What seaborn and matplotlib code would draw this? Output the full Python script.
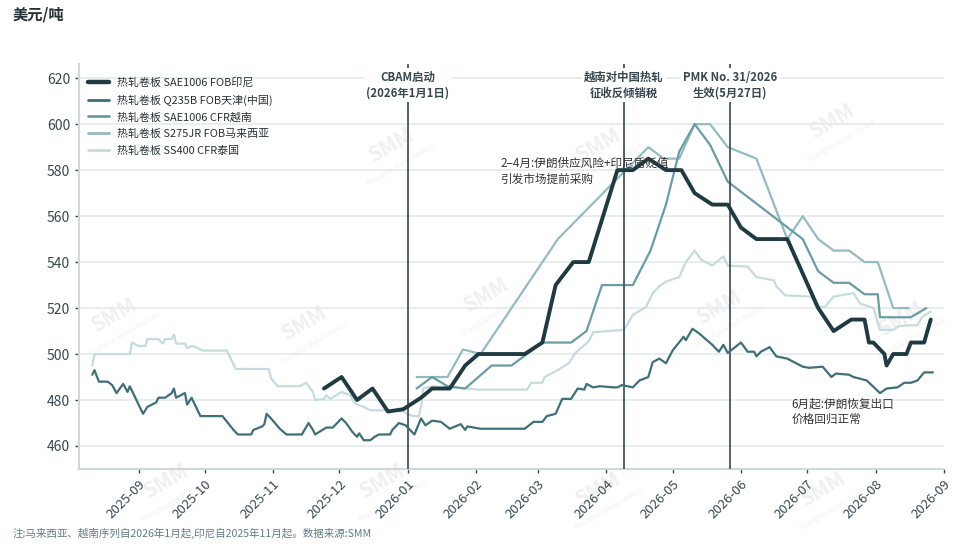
import matplotlib
matplotlib.use("Agg")
import matplotlib.pyplot as plt
import matplotlib.dates as mdates
from matplotlib.lines import Line2D
import seaborn as sns
import pandas as pd

# ---------------- data ----------------
series_names = [
    "热轧卷板 SAE1006 FOB印尼",
    "热轧卷板 Q235B FOB天津(中国)",
    "热轧卷板 SAE1006 CFR越南",
    "热轧卷板 S275JR FOB马来西亚",
    "热轧卷板 SS400 CFR泰国",
]
series_colors = ["#1f3a41", "#3f6f79", "#6b9ba5", "#94bbc3", "#c4dcdf"]
series_widths = [2.8, 1.6, 1.6, 1.6, 1.6]

indo_dates = ["2025-11-24", "2025-12-02", "2025-12-09", "2025-12-16", "2025-12-23",
              "2025-12-30", "2026-01-07", "2026-01-12", "2026-01-20", "2026-01-27",
              "2026-02-02", "2026-02-23", "2026-03-03", "2026-03-09", "2026-03-17",
              "2026-03-24", "2026-04-06", "2026-04-13", "2026-04-20", "2026-04-28",
              "2026-05-05", "2026-05-11", "2026-05-19", "2026-05-26", "2026-06-01",
              "2026-06-08", "2026-06-22", "2026-07-06", "2026-07-13", "2026-07-21",
              "2026-07-27", "2026-07-29", "2026-07-31", "2026-08-03", "2026-08-05",
              "2026-08-06", "2026-08-09", "2026-08-15", "2026-08-17", "2026-08-23",
              "2026-08-26"]
indo_values = [485, 490, 480, 485, 475, 476, 481, 485, 485, 495,
               500, 500, 505, 530, 540, 540, 580, 580, 585, 580,
               580, 570, 565, 565, 555, 550, 550, 520, 510, 515,
               515, 505, 505, 502, 500, 495, 500, 500, 505, 505,
               515]

china_dates = ["2025-08-11", "2025-08-12", "2025-08-14", "2025-08-18", "2025-08-20",
               "2025-08-22", "2025-08-25", "2025-08-27", "2025-08-28", "2025-08-31",
               "2025-09-03", "2025-09-05", "2025-09-09", "2025-09-10", "2025-09-13",
               "2025-09-16", "2025-09-17", "2025-09-18", "2025-09-22", "2025-09-23",
               "2025-09-25", "2025-09-29", "2025-10-09", "2025-10-14", "2025-10-16",
               "2025-10-22", "2025-10-23", "2025-10-27", "2025-10-28", "2025-10-29",
               "2025-10-31", "2025-11-04", "2025-11-07", "2025-11-14", "2025-11-17",
               "2025-11-19", "2025-11-20", "2025-11-25", "2025-11-28", "2025-12-02",
               "2025-12-04", "2025-12-07", "2025-12-09", "2025-12-10", "2025-12-12",
               "2025-12-15", "2025-12-17", "2025-12-19", "2025-12-24", "2025-12-25",
               "2025-12-28", "2025-12-31", "2026-01-04", "2026-01-07", "2026-01-09",
               "2026-01-12", "2026-01-16", "2026-01-20", "2026-01-25", "2026-01-27",
               "2026-01-28", "2026-02-03", "2026-02-23", "2026-02-27", "2026-03-03",
               "2026-03-05", "2026-03-09", "2026-03-12", "2026-03-16", "2026-03-19",
               "2026-03-22", "2026-03-23", "2026-03-26", "2026-03-29", "2026-04-04",
               "2026-04-06", "2026-04-08", "2026-04-13", "2026-04-16", "2026-04-20",
               "2026-04-22", "2026-04-25", "2026-04-28", "2026-05-01", "2026-05-06",
               "2026-05-07", "2026-05-10", "2026-05-13", "2026-05-19", "2026-05-22",
               "2026-05-24", "2026-05-26", "2026-06-01", "2026-06-04", "2026-06-07",
               "2026-06-08", "2026-06-10", "2026-06-14", "2026-06-17", "2026-06-22",
               "2026-06-29", "2026-07-02", "2026-07-08", "2026-07-12", "2026-07-14",
               "2026-07-20", "2026-07-22", "2026-07-28", "2026-08-03", "2026-08-06",
               "2026-08-11", "2026-08-14", "2026-08-17", "2026-08-20", "2026-08-23",
               "2026-08-27"]
china_values = [491, 493, 488, 488, 486.5, 483, 487, 483.5, 486, 480,
                474, 477, 479, 481, 481, 483, 485, 481, 483, 478,
                481, 473, 473, 467, 465, 465, 467, 468.5, 469.5, 474,
                472, 467.5, 465, 465, 470, 467, 465, 468, 468, 472,
                470, 466, 464, 465.5, 462.5, 462.5, 464, 465, 465, 467,
                470, 469, 465, 472, 469, 471, 470.5, 467.5, 469.5, 467,
                468.5, 467.5, 467.5, 470.5, 470.5, 473, 474, 480.5, 480.5, 485,
                484.5, 487, 485.5, 486, 485.5, 485.5, 486.5, 485.5, 488.5, 490,
                496.5, 498, 496, 501.5, 507.5, 506, 511, 509, 504, 501,
                504, 500.5, 505, 501, 501, 499, 501, 503, 499, 498,
                494.5, 494, 494.5, 490, 491.5, 491, 490, 488.5, 483, 485,
                485.5, 487.5, 487.5, 488.5, 492, 492]

viet_dates = ["2026-01-05", "2026-01-12", "2026-01-19", "2026-01-27", "2026-02-08",
              "2026-02-17", "2026-02-24", "2026-03-03", "2026-03-16", "2026-03-23",
              "2026-03-30", "2026-04-13", "2026-04-21", "2026-04-28", "2026-05-04",
              "2026-05-11", "2026-05-18", "2026-05-26", "2026-06-29", "2026-07-06",
              "2026-07-13", "2026-07-20", "2026-07-27", "2026-08-02", "2026-08-03",
              "2026-08-17", "2026-08-24"]
viet_values = [485, 490, 486, 485, 495, 495, 500, 505, 505, 510,
               530, 530, 545, 565, 588, 600, 591, 575, 550, 536,
               531, 531, 526, 526, 516, 516, 520]

malay_dates = ["2026-01-05", "2026-01-19", "2026-01-26", "2026-02-03", "2026-03-10",
               "2026-04-20", "2026-04-27", "2026-05-04", "2026-05-11", "2026-05-18",
               "2026-05-26", "2026-06-08", "2026-06-22", "2026-06-29", "2026-07-06",
               "2026-07-13", "2026-07-20", "2026-07-27", "2026-08-02", "2026-08-09",
               "2026-08-16"]
malay_values = [490, 490, 502, 500, 550, 590, 585, 585, 600, 600,
                590, 585, 550, 560, 550, 545, 545, 540, 540, 520,
                520]

thai_dates = ["2025-08-11", "2025-08-12", "2025-08-28", "2025-08-29", "2025-09-01",
              "2025-09-04", "2025-09-05", "2025-09-10", "2025-09-12", "2025-09-13",
              "2025-09-16", "2025-09-17", "2025-09-18", "2025-09-22", "2025-09-23",
              "2025-09-25", "2025-09-27", "2025-09-30", "2025-10-11", "2025-10-15",
              "2025-10-26", "2025-10-30", "2025-10-31", "2025-11-03", "2025-11-13",
              "2025-11-16", "2025-11-19", "2025-11-20", "2025-11-24", "2025-11-25",
              "2025-11-27", "2025-12-02", "2025-12-06", "2025-12-08", "2025-12-12",
              "2025-12-15", "2025-12-22", "2025-12-30", "2025-12-31", "2026-01-03",
              "2026-01-06", "2026-01-07", "2026-01-08", "2026-01-12", "2026-01-28",
              "2026-02-02", "2026-02-24", "2026-02-26", "2026-03-03", "2026-03-04",
              "2026-03-10", "2026-03-15", "2026-03-18", "2026-03-24", "2026-03-26",
              "2026-04-09", "2026-04-13", "2026-04-19", "2026-04-22", "2026-04-25",
              "2026-04-28", "2026-05-04", "2026-05-07", "2026-05-11", "2026-05-14",
              "2026-05-19", "2026-05-24", "2026-05-26", "2026-06-04", "2026-06-08",
              "2026-06-16", "2026-06-17", "2026-06-21", "2026-07-03", "2026-07-05",
              "2026-07-09", "2026-07-13", "2026-07-22", "2026-07-25", "2026-07-31",
              "2026-08-03", "2026-08-09", "2026-08-11", "2026-08-15", "2026-08-20",
              "2026-08-22", "2026-08-26"]
thai_values = [495, 500, 500, 505, 503.5, 503.5, 506.5, 506.5, 504.5, 506.5,
               506.5, 508.5, 504.5, 504.5, 502.5, 503.5, 503, 501.5, 501.5, 493.5,
               493.5, 493.5, 489.5, 486, 486, 487.5, 483.5, 480, 480.5, 482,
               480.5, 483.5, 482, 478.5, 477, 475.5, 475.5, 475, 474.5, 473,
               473, 477, 485, 486, 485, 484.5, 484.5, 487.5, 487.5, 490,
               493, 496, 500.5, 505.5, 509.5, 510.5, 517, 520.5, 526.5, 529.5,
               531.5, 533.5, 540, 545, 541, 538.5, 542.5, 538.5, 538, 533.5,
               532, 529.5, 525.5, 525, 520.5, 520.5, 525, 526.5, 522, 520,
               510.5, 510.5, 512, 512.5, 512.5, 516, 518.5]

event_dates = ["2026-01-01", "2026-04-09", "2026-05-27"]
event_labels = ["CBAM启动\n(2026年1月1日)", "越南对中国热轧\n征收反倾销税", "PMK No. 31/2026\n生效(5月27日)"]

y_ticks = [460, 480, 500, 520, 540, 560, 580, 600, 620]
x_tick_months = pd.date_range("2025-09-01", "2026-09-01", freq="MS")

note_1 = "2–4月:伊朗供应风险+印尼盾贬值\n引发市场提前采购"
note_2 = "6月起:伊朗恢复出口\n价格回归正常"
unit_label = "美元/吨"
footnote = "注:马来西亚、越南序列自2026年1月起,印尼自2025年11月起。数据来源:SMM"

# ---------------- build table ----------------
all_dates = [indo_dates, china_dates, viet_dates, malay_dates, thai_dates]
all_values = [indo_values, china_values, viet_values, malay_values, thai_values]
frames = []
for name, d, v in zip(series_names, all_dates, all_values):
    frames.append(pd.DataFrame({"date": pd.to_datetime(d), "value": v, "series": name}))
df = pd.concat(frames, ignore_index=True)

# ---------------- style ----------------
sns.set_theme(style="white")
plt.rcParams["font.family"] = ["Noto Sans CJK SC", "DejaVu Sans"]
text_dark = "#263238"
axis_gray = "#37474f"

fig = plt.figure(figsize=(9.65, 5.55), dpi=100)
ax = fig.add_axes([0.0819, 0.155, 0.8963, 0.729])

# faint watermark
for (wx, wy) in [(0.36, 0.80), (0.60, 0.80), (0.87, 0.86), (0.26, 0.36), (0.47, 0.43),
                 (0.74, 0.40), (0.04, 0.38), (0.95, 0.37), (0.10, -0.03), (0.35, -0.03),
                 (0.60, -0.05), (0.86, -0.05)]:
    ax.text(wx, wy, "SMM", transform=ax.transAxes, rotation=30, fontsize=15,
            color="#f0f0f0", fontweight="bold", ha="center", va="center", zorder=0)
    ax.text(wx + 0.012, wy - 0.05, "Shanghai Metals Market", transform=ax.transAxes,
            rotation=30, fontsize=5, color="#f1f1f1", ha="center", va="center", zorder=0)

# grid
for yt in y_ticks:
    ax.axhline(yt, color="#e4ebed", lw=1.2, zorder=0.5)

# lines (drawn light to dark)
for i in [4, 3, 2, 1, 0]:
    sub = df[df["series"] == series_names[i]]
    sns.lineplot(data=sub, x="date", y="value", ax=ax, color=series_colors[i],
                 linewidth=series_widths[i], estimator=None, sort=True,
                 zorder=3 + (5 - i), legend=False)

# event lines
for ed, el in zip(event_dates, event_labels):
    xd = pd.Timestamp(ed)
    ax.axvline(xd, color=axis_gray, lw=1.2, zorder=6)
    ax.text(xd, 617, el, ha="center", va="center", fontsize=8.2, fontweight="bold",
            color=axis_gray, linespacing=1.3, zorder=7,
            bbox=dict(boxstyle="square,pad=0.2", fc="white", ec="none"))

# notes
ax.text(pd.Timestamp("2026-02-12"), 579.7, note_1, ha="left", va="center", fontsize=8.4,
        color="#333333", linespacing=1.3, zorder=9)
ax.text(pd.Timestamp("2026-06-24"), 475, note_2, ha="left", va="center", fontsize=8.4,
        color="#333333", linespacing=1.25, zorder=9)

# legend
handles = [Line2D([0], [0], color=series_colors[i], lw=series_widths[i] + 0.4) for i in range(5)]
leg = ax.legend(handles, series_names, loc="upper left", bbox_to_anchor=(0.0, 0.99),
                frameon=False, fontsize=7.9, handlelength=1.9, handletextpad=0.75,
                labelspacing=0.58, borderaxespad=0.5, borderpad=0.3)
for t in leg.get_texts():
    t.set_color(text_dark)

# axes
ax.set_ylim(450, 626)
ax.set_xlim(pd.Timestamp("2025-08-05"), pd.Timestamp("2026-09-01"))
ax.set_yticks(y_ticks)
ax.set_xticks(x_tick_months)
ax.xaxis.set_major_formatter(mdates.DateFormatter("%Y-%m"))
ax.tick_params(axis="y", labelsize=10, colors=axis_gray, length=3, width=1, left=True)
ax.tick_params(axis="x", labelsize=9.5, colors=axis_gray, length=3, width=1, bottom=True)
for lbl in ax.get_xticklabels():
    lbl.set_rotation(45)
    lbl.set_ha("right")
    lbl.set_rotation_mode("anchor")
ax.set_xlabel("")
ax.set_ylabel("")
for s in ["top", "right"]:
    ax.spines[s].set_visible(False)
for s in ["left", "bottom"]:
    ax.spines[s].set_color("#cfd8dc")
    ax.spines[s].set_linewidth(1.5)

fig.text(13 / 965, 1 - 15 / 555, unit_label, ha="left", va="center", fontsize=11,
         fontweight="bold", color=text_dark)
fig.text(13 / 965, 1 - 533 / 555, footnote, ha="left", va="center", fontsize=7.6,
         color="#607d8b")

fig.savefig("out.png", dpi=100)
